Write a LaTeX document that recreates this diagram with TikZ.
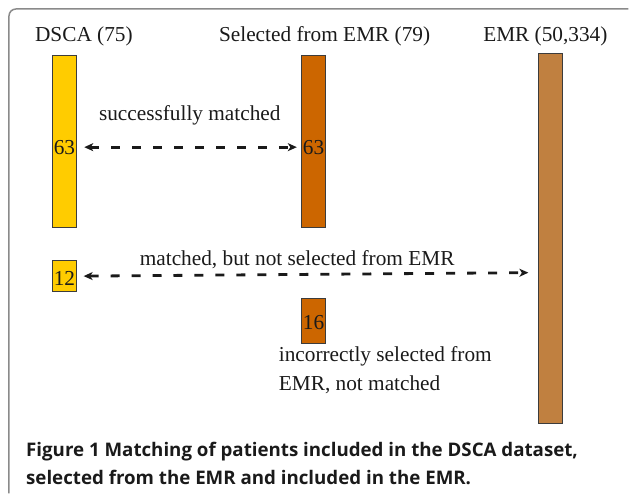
\documentclass[tikz,border=0pt]{standalone}
\usepackage{fontspec}
\setmainfont{Liberation Serif}
\newfontfamily\capfont{Open Sans}
\usetikzlibrary{arrows.meta, positioning}
\definecolor{dscaY}   {HTML}{FFCC00}
\definecolor{selO}    {HTML}{CC6600}
\definecolor{emrB}    {HTML}{C08040}
\definecolor{ink}     {HTML}{1A1A1A}
\definecolor{hairline}{HTML}{8A8A8A}

\begin{document}
\begin{tikzpicture}[x=1bp, y=-1bp,
    bar/.style={draw=ink!85, line width=1bp, inner sep=0pt, outer sep=0pt,
      minimum width=24.5bp},
    lbl/.style={inner sep=0pt, text=ink, font=\fontsize{21.4}{29}\selectfont},
    link/.style={line width=2.8bp, dash pattern=on 9bp off 12bp, ink,
      {Stealth[length=9bp, width=8bp, inset=2.5bp]}-{Stealth[length=9bp, width=8bp, inset=2.5bp]}}]

    % panel frame, open at the right and at the bottom
    \draw[hairline, line width=1.5bp, rounded corners=7bp]
      (9,494) -- (9,9) -- (629,9);

    % column heads
    \node[lbl, anchor=base] (dscaHead) at (84,42)  {DSCA (75)};
    \node[lbl, anchor=base] (selHead)  at (325,42) {Selected from EMR (79)};
    \node[lbl, anchor=base] (emrHead)  at (546,42) {EMR (50,334)};

    % bars
    \node[bar, fill=dscaY, minimum height=172bp] (dscaBar) at (64.5,142) {};
    \node[bar, fill=selO,  minimum height=172bp] (selBar)  at (314,142)  {};
    \node[bar, fill=emrB,  minimum height=370bp] (emrBar)  at (551,239)  {};
    \node[bar, fill=dscaY, minimum height=31bp]  (dscaRest) at (64.5,276.5) {};
    \node[bar, fill=selO,  minimum height=45bp]  (selRest)  at (314,321.5) {};

    % counts
    \node[lbl, anchor=base] (dscaMatch) at (64.5,154.3) {63};
    \node[lbl, anchor=base] (selMatch)  at (314,154.3)  {63};
    \node[lbl, anchor=base] (dscaOnly)  at (64.5,286)   {12};
    \node[lbl, anchor=base] (selOnly)   at (314,330)    {16};
    \coordinate (emrIn) at (529,273);

    % links
    \draw[link, shorten <=9bp, shorten >=6bp] (dscaMatch) -- (selMatch);
    \node[lbl, anchor=base] (matchTxt) at (190,121) {successfully matched};
    \draw[link, shorten <=7bp] (dscaRest.east) -- (emrIn);
    \node[lbl, anchor=base] (missTxt) at (297.5,266)
      {matched, but not selected from EMR};
    % base of a two-line node is its last line
    \node[lbl, anchor=base west, align=left] (wrongTxt) at (279,391)
      {incorrectly selected from\\EMR, not matched};

    % caption
    \node[inner sep=0pt, anchor=base west, align=left, text=ink,
      font=\capfont\bfseries\fontsize{18.8}{27.7}\selectfont] (caption) at (26,485)
      {Figure 1 Matching of patients included in the DSCA dataset,\\
       selected from the EMR and included in the EMR.};
    \useasboundingbox (0,0) rectangle (629,494);
  \end{tikzpicture}
\end{document}
